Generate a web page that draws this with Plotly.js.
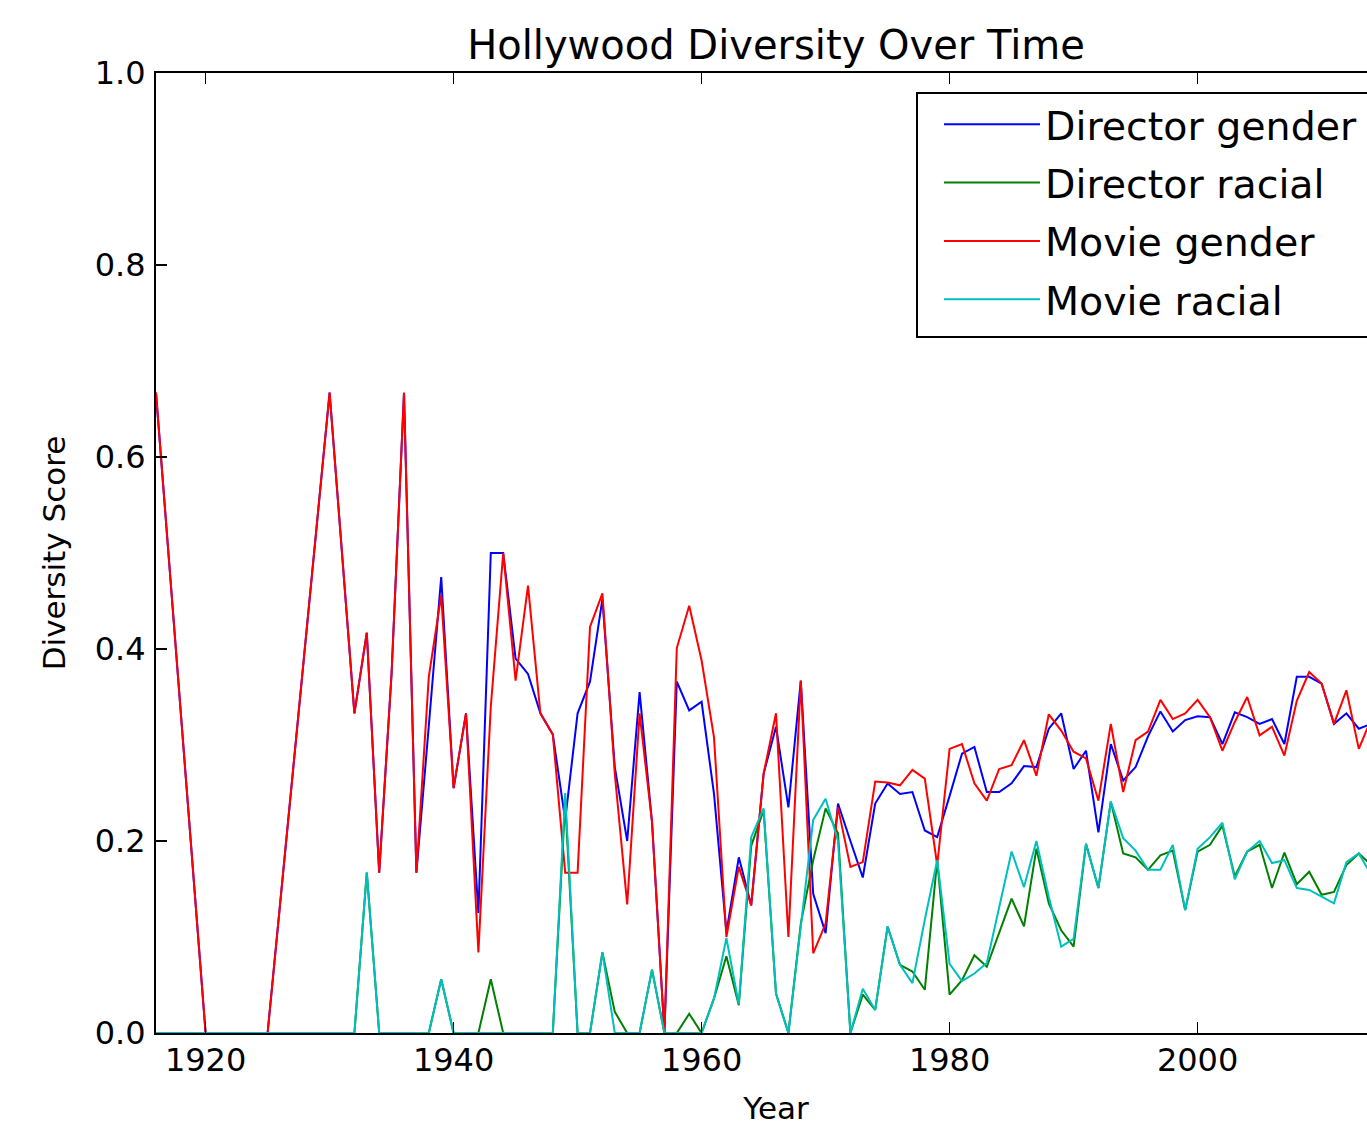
<!DOCTYPE html>
<html>
<head>
<meta charset="utf-8">
<script src="https://cdn.plot.ly/plotly-3.0.1.min.js"></script>
<style>
  html, body { margin: 0; padding: 0; overflow: hidden; background: #fff; }
  #chart { width: 1440px; height: 1126px; }
</style>
</head>
<body>
<div id="chart"></div>
<script>
const years = [1916, 1920, 1925, 1930,
  1932, 1933, 1934, 1935, 1936, 1937, 1938, 1939, 1940, 1941,
  1942, 1943, 1944, 1945, 1946, 1947, 1948, 1949, 1950, 1951,
  1952, 1953, 1954, 1955, 1956, 1957, 1958, 1959, 1960, 1961,
  1962, 1963, 1964, 1965, 1966, 1967, 1968, 1969, 1970, 1971,
  1972, 1973, 1974, 1975, 1976, 1977, 1978, 1979, 1980, 1981,
  1982, 1983, 1984, 1985, 1986, 1987, 1988, 1989, 1990, 1991,
  1992, 1993, 1994, 1995, 1996, 1997, 1998, 1999, 2000, 2001,
  2002, 2003, 2004, 2005, 2006, 2007, 2008, 2009, 2010, 2011,
  2012, 2013, 2014];

const directorGender = [0.667, 0, 0, 0.667,
  0.333, 0.417, 0.167, 0.375, 0.667, 0.167, 0.32, 0.475, 0.255, 0.333,
  0.125, 0.5, 0.5, 0.39, 0.374, 0.333, 0.311, 0.222, 0.333, 0.366,
  0.452, 0.277, 0.2, 0.355, 0.22, 0.0, 0.366, 0.336, 0.345, 0.249,
  0.105, 0.183, 0.133, 0.27, 0.319, 0.235, 0.367, 0.145, 0.104, 0.239,
  0.2, 0.162, 0.239, 0.26, 0.249, 0.251, 0.211, 0.204, 0.247, 0.291,
  0.298, 0.251, 0.251, 0.26, 0.278, 0.277, 0.317, 0.333, 0.275, 0.294,
  0.209, 0.301, 0.263, 0.277, 0.309, 0.335, 0.314, 0.326, 0.33, 0.329,
  0.301, 0.334, 0.329, 0.322, 0.327, 0.301, 0.371, 0.371, 0.364, 0.322,
  0.333, 0.317, 0.322];

const directorRacial = [0, 0, 0, 0,
  0, 0.167, 0, 0, 0, 0, 0, 0.056, 0, 0,
  0, 0.056, 0, 0, 0, 0, 0, 0.24, 0, 0,
  0.084, 0.022, 0, 0, 0.066, 0, 0, 0.02, 0, 0.036,
  0.08, 0.029, 0.195, 0.232, 0.041, 0, 0.114, 0.18, 0.234, 0.208,
  0, 0.04, 0.024, 0.111, 0.071, 0.064, 0.045, 0.18, 0.04, 0.055,
  0.081, 0.069, 0.105, 0.14, 0.111, 0.192, 0.135, 0.107, 0.09, 0.197,
  0.151, 0.241, 0.187, 0.183, 0.17, 0.185, 0.19, 0.128, 0.189, 0.196,
  0.216, 0.163, 0.189, 0.196, 0.151, 0.188, 0.155, 0.168, 0.144, 0.147,
  0.175, 0.187, 0.175];

const movieGender = [0.667, 0, 0, 0.667,
  0.333, 0.417, 0.167, 0.375, 0.667, 0.167, 0.371, 0.456, 0.255, 0.333,
  0.084, 0.34, 0.5, 0.367, 0.466, 0.333, 0.311, 0.167, 0.167, 0.423,
  0.458, 0.27, 0.134, 0.333, 0.22, 0.0, 0.401, 0.445, 0.388, 0.308,
  0.1, 0.173, 0.133, 0.27, 0.333, 0.1, 0.367, 0.083, 0.114, 0.235,
  0.173, 0.178, 0.262, 0.261, 0.258, 0.274, 0.265, 0.175, 0.296, 0.301,
  0.26, 0.242, 0.275, 0.279, 0.305, 0.268, 0.332, 0.315, 0.293, 0.286,
  0.242, 0.322, 0.251, 0.305, 0.314, 0.347, 0.327, 0.333, 0.347, 0.329,
  0.294, 0.324, 0.35, 0.31, 0.319, 0.289, 0.346, 0.376, 0.364, 0.322,
  0.357, 0.296, 0.327];

const movieRacial = [0, 0, 0, 0,
  0, 0.167, 0, 0, 0, 0, 0, 0.056, 0, 0,
  0, 0, 0, 0, 0, 0, 0, 0.25, 0, 0,
  0.084, 0, 0, 0, 0.066, 0, 0, 0, 0, 0.036,
  0.099, 0.03, 0.204, 0.234, 0.041, 0, 0.114, 0.222, 0.244, 0.2,
  0, 0.046, 0.024, 0.111, 0.071, 0.052, 0.118, 0.18, 0.072, 0.054,
  0.062, 0.073, 0.131, 0.189, 0.152, 0.2, 0.142, 0.09, 0.098, 0.197,
  0.151, 0.241, 0.203, 0.19, 0.17, 0.17, 0.196, 0.128, 0.192, 0.204,
  0.219, 0.16, 0.189, 0.2, 0.177, 0.18, 0.151, 0.149, 0.142, 0.135,
  0.178, 0.187, 0.165];

const seriesNames = ["Director gender", "Director racial", "Movie gender", "Movie racial"];
const seriesValues = [directorGender, directorRacial, movieGender, movieRacial];
const seriesColors = ["#0000ff", "#008000", "#ff0000", "#00bfbf"];

const xTicks = [1920, 1940, 1960, 1980, 2000];
const yTicks = [0.0, 0.2, 0.4, 0.6, 0.8, 1.0];

const FONT = "DejaVu Sans, Liberation Sans, sans-serif";

const traces = seriesNames.map((name, i) => ({
  type: "scatter",
  mode: "lines",
  name: name,
  legendgroup: "g" + i,
  x: years,
  y: seriesValues[i],
  line: { color: seriesColors[i], width: 2 },
  hoverinfo: "skip"
}));

const axisCommon = {
  showline: true,
  linecolor: "#000",
  linewidth: 2,
  mirror: "ticks",
  ticks: "inside",
  ticklen: 11,
  tickwidth: 1.5,
  tickcolor: "#000",
  showgrid: false,
  zeroline: false,
  tickfont: { family: FONT, size: 32, color: "#000" }
};

// plot area in pixels: x 156..1396, y 73..1033
const PL = 156, PW = 1240, PT = 73, PH = 960;
const px = v => (v - PL) / PW;
const py = v => (PT + PH - v) / PH;

const layout = {
  width: 1440,
  height: 1126,
  margin: { l: PL, r: 1440 - PL - PW, t: PT, b: 1126 - PT - PH },
  paper_bgcolor: "#fff",
  plot_bgcolor: "#fff",
  title: {
    text: "Hollywood Diversity Over Time",
    font: { family: FONT, size: 40, color: "#000" },
    x: 0.5, xref: "paper", xanchor: "center",
    y: 1, yref: "paper", yanchor: "bottom", pad: { b: 14 }
  },
  xaxis: Object.assign({}, axisCommon, {
    range: [1916, 2016],
    tickvals: xTicks,
    ticktext: xTicks.map(String),
    ticklabelstandoff: -2,
    title: { text: "Year", font: { family: FONT, size: 31, color: "#000" } }
  }),
  yaxis: Object.assign({}, axisCommon, {
    range: [0, 1],
    tickvals: yTicks,
    ticktext: yTicks.map(v => v.toFixed(1)),
    ticklabelstandoff: 2,
    automargin: true,
    title: { text: "Diversity Score", font: { family: FONT, size: 31, color: "#000" }, standoff: 20 }
  }),
  shapes: [{
    type: "rect", xref: "paper", yref: "paper", layer: "above",
    x0: px(917), x1: px(1420), y0: py(337), y1: py(93),
    line: { color: "#000", width: 2 }, fillcolor: "#fff"
  }],
  showlegend: true,
  legend: {
    x: px(917),
    y: py(92),
    xanchor: "left",
    yanchor: "top",
    bgcolor: "rgba(0,0,0,0)",
    borderwidth: 0,
    indentation: 22,
    font: { family: FONT, size: 39.5, color: "#000" },
    traceorder: "grouped",
    tracegroupgap: 4,
    itemwidth: 96
  }
};

Plotly.newPlot("chart", traces, layout, { displayModeBar: false, staticPlot: true });
</script>
</body>
</html>
